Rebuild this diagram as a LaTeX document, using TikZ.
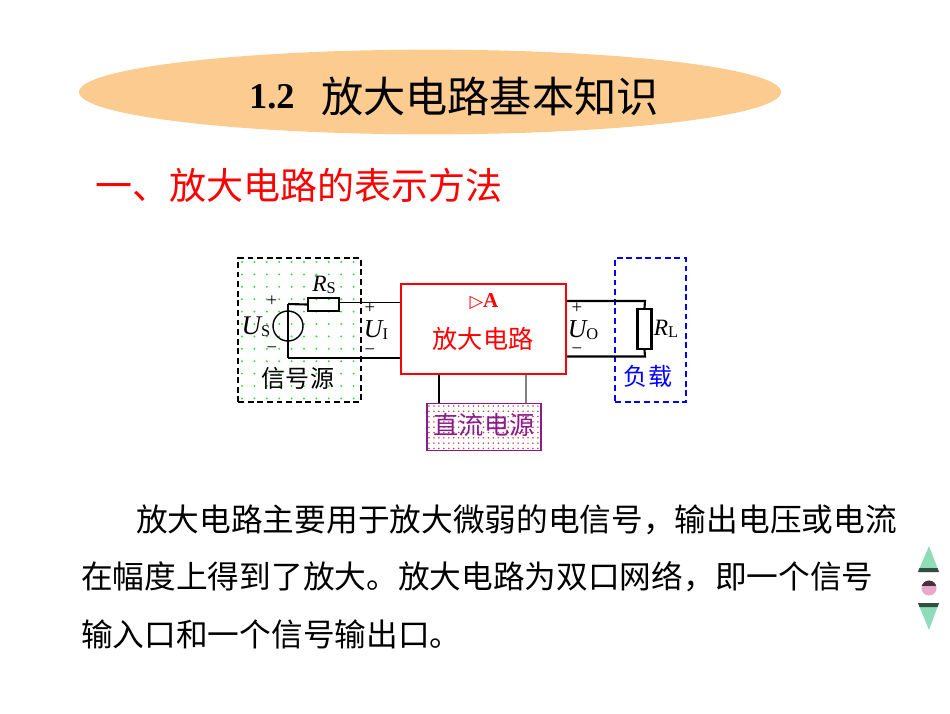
\documentclass[tikz,border=0pt]{standalone}
\usepackage{fontspec}
\setmainfont{Liberation Serif}
\newfontfamily\cjk{Noto Sans CJK SC}
\newfontfamily\symb{DejaVu Sans}
\usetikzlibrary{positioning,arrows.meta,calc,shapes.geometric}
\definecolor{titlefill}{HTML}{FBCB8F}
\definecolor{navgreen}{HTML}{8FDDB8}
\definecolor{navpink}{HTML}{E8A8CC}
\definecolor{powerline}{HTML}{8B1A8B}
\newcommand{\quant}[2]{{\itshape #1}{\fontsize{14}{14}\selectfont\raisebox{-2pt}{#2}}}

\begin{document}
\begin{tikzpicture}[
    x=0.3mm, y=-0.3mm,
    wire/.style={draw=black, line width=1pt},
    wirethick/.style={draw=black, line width=1.8pt},
    dashbox/.style={draw, dash pattern=on 5pt off 3.2pt, line width=1.9pt, inner sep=0pt, anchor=north west},
    lab/.style={inner sep=0pt, font=\fontsize{20}{20}\selectfont},
    sign/.style={inner sep=0pt, font=\fontsize{16}{16}\selectfont},
    bodyline/.style={inner sep=0pt, anchor=west, font=\cjk\fontsize{27.05}{27}\selectfont},
]
\useasboundingbox (0,0) rectangle (950,713);
% --- heading ---
\node[ellipse, fill=titlefill, minimum width=210.6mm, minimum height=25.4mm, inner sep=0pt] (head) at (430,92) {};
\node[inner sep=0pt, anchor=west, font=\bfseries\fontsize{31}{31}\selectfont] (num) at (249,97) {1.2};
\node[inner sep=0pt, anchor=west, font=\cjk\fontsize{36}{36}\selectfont] (title) at (321,96) {放大电路基本知识};
\node[inner sep=0pt, anchor=west, text=red, font=\cjk\fontsize{31.6}{32}\selectfont] (sub) at (95,185) {一、放大电路的表示方法};
% --- dotted fills ---
\foreach \i in {0,...,9}{
  \foreach \j in {0,...,11}{
    \fill[green!85!black!80] (242+\i*12.4,262+\j*12.4) circle (1.1);}}
\foreach \i in {0,...,22}{
  \foreach \j in {0,...,8}{
    \fill[red!70!black!75] (429+\i*4.95,406+\j*5.3) circle (0.85);}}
% --- dashed blocks ---
\node[dashbox, draw=black, minimum width=36.9mm, minimum height=43.2mm] (source) at (237,257) {};
\node[dashbox, draw=blue, minimum width=21.3mm, minimum height=43.2mm] (load) at (614,257) {};
% --- amplifier ---
\node[draw=red, line width=1.9pt, fill=white, minimum width=49.6mm, minimum height=27mm, inner sep=0pt, anchor=north west] (amp) at (399.5,283) {};
\node[inner sep=0pt, text=red, font=\bfseries\fontsize{18}{18}\selectfont] (gain) at (484,302) {{\symb\fontsize{15}{15}\selectfont ▷}A};
\node[inner sep=0pt, text=red, font=\cjk\fontsize{21.5}{22}\selectfont] (ampname) at (483,339) {放大电路};
\node[draw=powerline, line width=1.5pt, minimum width=34.2mm, minimum height=14.1mm, inner sep=0pt, anchor=north west] (power) at (426,402.5) {};
\node[inner sep=0pt, text=powerline, font=\cjk\fontsize{21.5}{22}\selectfont] (powername) at (484,425) {直流电源};
% --- source side ---
\node[draw, circle, line width=1.2pt, minimum size=9mm, inner sep=0pt] (us) at (288,326) {};
\node[draw, wirethick, minimum width=9.3mm, minimum height=3.9mm, inner sep=0pt] (rs) at (323.5,304.5) {};
\coordinate (ustop) at (287,304);
\coordinate (usbot) at (287,358);
\draw[wirethick] (us.center |- ustop) -- (rs.west);
\draw[wirethick] (us.center |- ustop) -- (us.south);
\draw[wire] (us.south) -- (us.center |- usbot);
\draw[wire] ([yshift=2pt]rs.east) -- ([yshift=2pt]amp.west |- rs.east);
\draw[wire] (us.center |- usbot) -- (amp.west |- usbot);
\node[lab] (rslab) at (324,285) {\quant{R}{S}};
\node[lab, font=\fontsize{23}{23}\selectfont] (uslab) at (256,327) {\quant{U}{S}};
\node[sign] (usplus) at (272,301) {+};
\node[sign] (usminus) at (272,350) {\textminus};
\node[sign] (uiplus) at (370,308) {+};
\node[sign] (uiminus) at (370,352) {\textminus};
\node[lab, font=\fontsize{22}{22}\selectfont] (uilab) at (376,330) {\quant{U}{I}};
\node[inner sep=0pt, font=\cjk\fontsize{20.5}{21}\selectfont] (sourcename) at (298,378) {信号源};
% --- load side ---
\node[draw, wirethick, fill=white, minimum width=4.2mm, minimum height=12mm, inner sep=0pt] (rl) at (644.5,329) {};
\coordinate (rltop) at (645,301);
\coordinate (rlbot) at (645,356.5);
\draw[wirethick] (amp.east |- rltop) -- (rltop) -- (rl.north);
\draw[wirethick] (amp.east |- rlbot) -- (rlbot) -- (rl.south);
\node[lab] (rllab) at (666,329) {\quant{R}{L}};
\node[sign] (uoplus) at (577,308) {+};
\node[sign] (uominus) at (577,351) {\textminus};
\node[lab, font=\fontsize{22}{22}\selectfont] (uolab) at (583,330) {\quant{U}{O}};
\node[inner sep=0pt, text=blue, font=\cjk\fontsize{20.5}{21}\selectfont] (loadname) at (648,376) {负载};
% --- supply wires ---
\draw[wire, line width=1.3pt] (amp.south -| 439,0) -- (power.north -| 439,0);
\draw[wire, gray, line width=1.3pt] (amp.south -| 526,0) -- (power.north -| 526,0);
% --- paragraph ---
\node[bodyline] (lineone) at (136,520) {放大电路主要用于放大微弱的电信号，输出电压或电流};
\node[bodyline] (linetwo) at (81,577) {在幅度上得到了放大。放大电路为双口网络，即一个信号};
\node[bodyline] (linethree) at (81,634) {输入口和一个信号输出口。};
% --- page buttons ---
\fill[navgreen] (929,546) -- (939,572) -- (918,572) -- cycle;
\fill[black!65!navgreen] (919.5,568) -- (937.5,568) -- (939,572) -- (918,572) -- cycle;
\fill[navpink] (929,588) circle (7.5);
\begin{scope}
  \clip (929,588) circle (7.5);
  \fill[black!70!navpink] (920,580) rectangle (938,586);
\end{scope}
\fill[navgreen] (918,603) -- (939,603) -- (929,630) -- cycle;
\fill[black!65!navgreen] (918,603) -- (939,603) -- (937.5,607) -- (919.5,607) -- cycle;
\end{tikzpicture}
\end{document}
